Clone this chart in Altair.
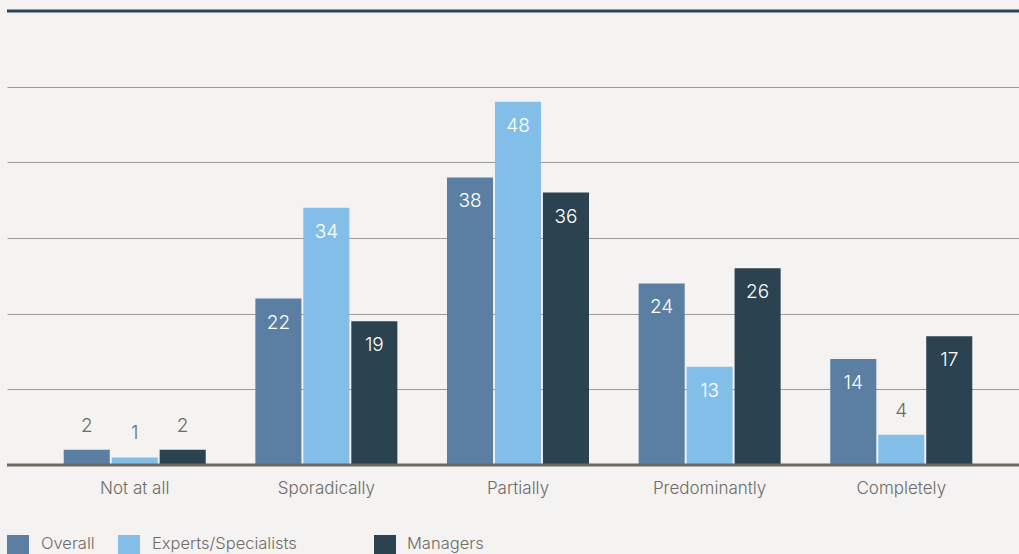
import altair as alt
import pandas as pd

# Survey answers (percent) per response level and respondent group
categories = ["Not at all", "Sporadically", "Partially", "Predominantly", "Completely"]
series = ["Overall", "Experts/Specialists", "Managers"]
overall = [2, 22, 38, 24, 14]
experts = [1, 34, 48, 13, 4]
managers = [2, 19, 36, 26, 17]

colors = ["#5a7fa3", "#82bee8", "#2b4250"]
FONT = "Inter"
TEXT_GRAY = "#6e6b68"

rows = []
for name, vals in zip(series, [overall, experts, managers]):
    for cat, v in zip(categories, vals):
        rows.append({"category": cat, "group": name, "value": v})
df = pd.DataFrame(rows)

x_enc = alt.X(
    "category:N",
    sort=categories,
    title=None,
    scale=alt.Scale(range=[0, 1022], paddingInner=0.259, paddingOuter=0.296),
    axis=alt.Axis(
        domain=False,
        ticks=False,
        labelAngle=0,
        labelFont=FONT,
        labelFontSize=17,
        labelFontWeight=300,
        labelColor=TEXT_GRAY,
        labelPadding=15,
    ),
)
xoff = alt.XOffset("group:N", sort=series, scale=alt.Scale(paddingInner=0.04, paddingOuter=0))
y_enc = alt.Y(
    "value:Q",
    title=None,
    scale=alt.Scale(domain=[0, 60], nice=False),
    axis=alt.Axis(
        labels=False,
        ticks=False,
        domain=False,
        values=[10, 20, 30, 40, 50],
        grid=True,
        gridColor="#9a9a9a",
        gridWidth=1,
    ),
)
color_enc = alt.Color(
    "group:N", sort=series, scale=alt.Scale(domain=series, range=colors), legend=None
)

base = alt.Chart(df)

bars = base.mark_bar().encode(x=x_enc, xOffset=xoff, y=y_enc, color=color_enc)

labels_in = (
    base.transform_filter("datum.value >= 5")
    .mark_text(font=FONT, fontSize=19, fontWeight=300, color="white", baseline="middle", dy=24)
    .encode(x=x_enc, xOffset=xoff, y="value:Q", text="value:Q")
)
labels_out = (
    base.transform_filter("datum.value < 5")
    .mark_text(font=FONT, fontSize=19, fontWeight=300, color=TEXT_GRAY, baseline="middle", dy=-24)
    .encode(x=x_enc, xOffset=xoff, y="value:Q", text="value:Q")
)

top_rule = (
    alt.Chart(pd.DataFrame({"v": [60]}))
    .mark_rule(color="#2b4554", strokeWidth=3)
    .encode(y="v:Q")
)
base_rule = (
    alt.Chart(pd.DataFrame({"v": [0]}))
    .mark_rule(color="#6d675f", strokeWidth=3)
    .encode(y="v:Q")
)

# Legend drawn below the plot: swatch + label per group
legend_layers = []
swatch_x = [0, 111, 367]
label_x = [34, 145, 400]
for name, col, sx, lx in zip(series, colors, swatch_x, label_x):
    one = pd.DataFrame({"name": [name]})
    legend_layers.append(
        alt.Chart(one)
        .mark_rect(color=col)
        .encode(
            x=alt.value(sx), x2=alt.value(sx + 22), y=alt.value(524), y2=alt.value(546)
        )
    )
    legend_layers.append(
        alt.Chart(one)
        .mark_text(
            font=FONT, fontSize=16.5, fontWeight=300, color=TEXT_GRAY, align="left", baseline="middle"
        )
        .encode(x=alt.value(lx), y=alt.value(533), text="name:N")
    )

chart = (
    alt.layer(bars, labels_in, labels_out, base_rule, top_rule, *legend_layers)
    .properties(
        width=1012,
        height=454,
        autosize=alt.AutoSizeParams(type="none"),
        padding={"left": 7, "top": 11, "right": 0, "bottom": 89},
        background="#f4f3f1",
    )
    .configure_view(stroke=None)
)

chart.save("out.html", embed_options={"renderer": "svg", "actions": False})
